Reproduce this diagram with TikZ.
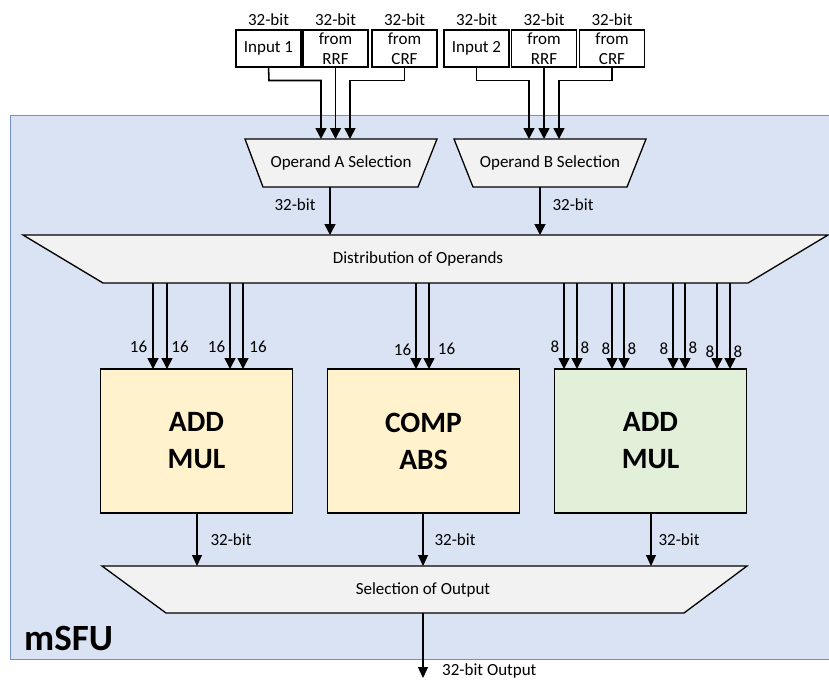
\documentclass[tikz,border=0pt]{standalone}
\usepackage{fontspec}
\setmainfont{Carlito}
\usetikzlibrary{arrows.meta}
\definecolor{panel}{HTML}{DAE3F3}
\definecolor{panelline}{HTML}{6F8FCF}
\definecolor{muxfill}{HTML}{F2F2F2}
\definecolor{unitY}{HTML}{FFF2CC}
\definecolor{unitG}{HTML}{E2F0D9}

\begin{document}
\begin{tikzpicture}[x=1pt,y=-1pt,
  small/.style={font=\fontsize{17}{20}\selectfont},
  lbl/.style={small, inner sep=0pt},
  inbox/.style={draw, line width=1.1pt, fill=white, minimum width=65, minimum height=37,
    inner sep=0pt, outer sep=0pt, align=center, small},
  muxarea/.style={minimum width=#1, minimum height=48, inner sep=0pt, outer sep=0pt},
  mux/.style={draw, line width=1.3pt, fill=muxfill},
  unit/.style={draw, line width=1.3pt, minimum width=192, minimum height=144,
    inner sep=0pt, outer sep=0pt, align=center,
    font=\fontsize{29.5}{37}\selectfont\bfseries},
  wire/.style={line width=1.6pt},
  arr/.style={wire, -{Triangle[width=11pt,length=11pt]}},
  thinarr/.style={line width=1.1pt, -{Triangle[width=10pt,length=11pt]}},
]
\useasboundingbox (0,0) rectangle (829,680);

% enclosing mSFU panel
\fill[panel] (10,115) rectangle (840,659);
\draw[panelline, line width=1pt] (840,115) -- (10,115) -- (10,659) -- (840,659);
\node[anchor=base west, inner sep=0pt, font=\fontsize{37}{40}\selectfont\bfseries] (title) at (24,650) {mSFU};

% operand sources
\node[inbox] (in1)  at (268.5,48.5) {Input 1};
\node[inbox] (rrfA) at (335.5,48.5) {from\\RRF};
\node[inbox] (crfA) at (404.5,48.5) {from\\CRF};
\node[inbox] (in2)  at (476.5,48.5) {Input 2};
\node[inbox] (rrfB) at (544,48.5)   {from\\RRF};
\node[inbox] (crfB) at (612,48.5)   {from\\CRF};
\foreach \n in {in1,rrfA,crfA,in2,rrfB,crfB}
  \node[lbl, anchor=base] (w\n) at ([yshift=5pt]\n.north) {32-bit};

% operand selection multiplexers
\node[muxarea=192] (opA) at (341,163) {};
\draw[mux] (opA.north west) -- (opA.north east) -- ([xshift=-19pt]opA.south east)
  -- ([xshift=18pt]opA.south west) -- cycle;
\node[small] (opAtxt) at (opA) {Operand A Selection};
\node[muxarea=192] (opB) at (550,163) {};
\draw[mux] (opB.north west) -- (opB.north east) -- ([xshift=-19pt]opB.south east)
  -- ([xshift=19pt]opB.south west) -- cycle;
\node[small] (opBtxt) at (opB) {Operand B Selection};

% routing of the sources into the selectors
\draw[arr] (in1.south) -- (269,80.5) -- (321,80.5) -- (321,0 |- opA.north);
\draw[arr] (rrfA.south) -- (335.5,0 |- opA.north);
\draw[arr] (crfA.south) -- (404.5,80.5) -- (350,80.5) -- (350,0 |- opA.north);
\draw[arr] (in2.south) -- (476.5,80.5) -- (529,80.5) -- (529,0 |- opB.north);
\draw[arr] (rrfB.south) -- (544,0 |- opB.north);
\draw[arr] (crfB.south) -- (612,80.5) -- (559,80.5) -- (559,0 |- opB.north);

% distribution of operands
\node[muxarea=805] (dist) at (425.5,259) {};
\draw[mux] (dist.north west) -- (dist.north east) -- ([xshift=-80pt]dist.south east)
  -- ([xshift=80pt]dist.south west) -- cycle;
\node[small] (disttxt) at (418,259) {Distribution of Operands};

\draw[arr] (330,0 |- opA.south) -- (330,0 |- dist.north);
\node[lbl] (wA) at (295,205) {32-bit};
\draw[arr] (540,0 |- opB.south) -- (540,0 |- dist.north);
\node[lbl] (wB) at (573,205) {32-bit};

% functional units
\node[unit, fill=unitY] (u1) at (196.5,441) {ADD\\MUL};
\node[unit, fill=unitY] (u2) at (423.5,441) {COMP\\ABS};
\node[unit, fill=unitG] (u3) at (650.5,441) {ADD\\MUL};

% operand lanes
\foreach \x in {153,167,230,243}
  \draw[arr] (\x,0 |- dist.south) -- (\x,0 |- u1.north);
\foreach \x in {416,429}
  \draw[arr] (\x,0 |- dist.south) -- (\x,0 |- u2.north);
\foreach \x in {564,577,612,624,673,685,717,730}
  \draw[arr] (\x,0 |- dist.south) -- (\x,0 |- u3.north);
\foreach \x/\y [count=\i] in {138.5/347,180/347,216.5/347,258/347,402.5/350,446.5/349}
  \node[lbl] (h\i) at (\x,\y) {16};
\foreach \x/\y [count=\i] in {555/347,585/348,606/349,632/349,664/349,693/348,710/352,738/352}
  \node[lbl] (e\i) at (\x,\y) {8};

% output selection
\node[muxarea=645, minimum height=47] (outsel) at (424.5,589.5) {};
\draw[mux] (outsel.north west) -- (outsel.north east) -- ([xshift=-63pt]outsel.south east)
  -- ([xshift=64pt]outsel.south west) -- cycle;
\node[small] (outtxt) at (423,590) {Selection of Output};

\draw[thinarr] (197,0 |- u1.south) -- (197,0 |- outsel.north);
\draw[thinarr] (423,0 |- u2.south) -- (423,0 |- outsel.north);
\draw[thinarr] (651,0 |- u3.south) -- (651,0 |- outsel.north);
\node[lbl] (r1) at (231,540) {32-bit};
\node[lbl] (r2) at (455,540) {32-bit};
\node[lbl] (r3) at (679,540) {32-bit};

\coordinate (out) at (423,678);
\draw[thinarr] (423,0 |- outsel.south) -- (out);
\node[lbl, anchor=west] (outlbl) at (442,671) {32-bit Output};
\end{tikzpicture}
\end{document}
